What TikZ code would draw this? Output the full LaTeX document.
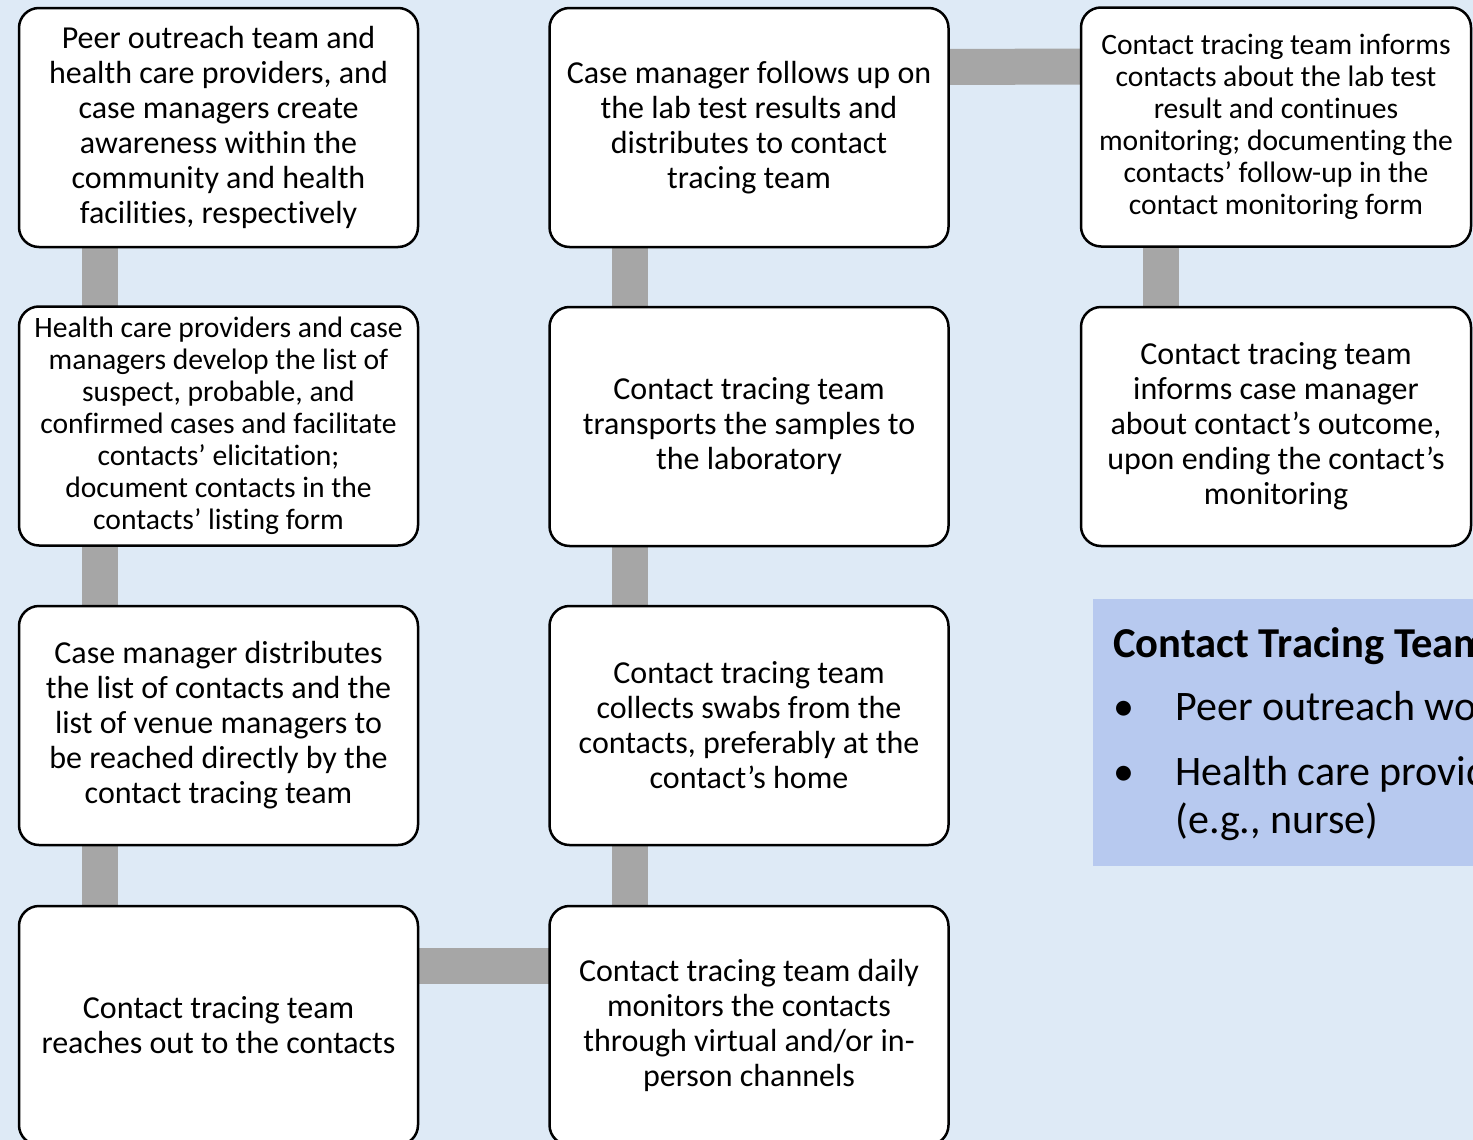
\documentclass[tikz,border=0pt]{standalone}
\usepackage{fontspec}
\setmainfont{Carlito}[Ligatures=NoCommon]
\pgfdeclarelayer{bglayer}
\pgfdeclarelayer{connlayer}
\pgfsetlayers{bglayer,connlayer,main}
\definecolor{bgblue}{RGB}{222,234,246}
\definecolor{barg}{RGB}{166,166,166}
\definecolor{legblue}{RGB}{183,201,239}
\begin{document}
\begin{tikzpicture}[x=0.5pt,y=-0.5pt,
  stepbox/.style={draw=black, line width=1.25pt, fill=white, rounded corners=10pt,
    minimum width=199.5pt, minimum height=119.5pt, inner sep=0pt, outer sep=0pt,
    align=center, font=\fontsize{16pt}{17.5pt}\selectfont},
  narrowbox/.style={stepbox, minimum width=195pt},
  smalltext/.style={font=\fontsize{14.8pt}{16pt}\selectfont},
  bar/.style={draw=barg, line width=18pt},
  legtext/.style={anchor=base west, inner sep=0pt, font=\fontsize{21pt}{24.5pt}\selectfont},
]
\useasboundingbox (0,0) rectangle (1473,1140);
\begin{pgfonlayer}{bglayer}
  \fill[bgblue] (0,0) rectangle (1473,1140);
\end{pgfonlayer}
\clip (0,0) rectangle (1473,1140);

% column 1
\node[stepbox] (a1) at (218.5,127.5) {Peer outreach team and\\health care providers, and\\case managers create\\awareness within the\\community and health\\facilities, respectively};
\node[stepbox, smalltext] (a2) at (218.5,426) {Health care providers and case\\managers develop the list of\\suspect, probable, and\\confirmed cases and facilitate\\contacts’ elicitation;\\document contacts in the\\contacts’ listing form};
\node[stepbox] (a3) at (218.5,725.5) {Case manager distributes\\the list of contacts and the\\list of venue managers to\\be reached directly by the\\contact tracing team};
\node[stepbox] (a4) at (218.5,1025.5) {Contact tracing team\\reaches out to the contacts};

% column 2
\node[stepbox] (b1) at (749,127.5) {Case manager follows up on\\the lab test results and\\distributes to contact\\tracing team};
\node[stepbox] (b2) at (749,426.5) {Contact tracing team\\transports the samples to\\the laboratory};
\node[stepbox] (b3) at (749,725.5) {Contact tracing team\\collects swabs from the\\contacts, preferably at the\\contact’s home};
\node[stepbox] (b4) at (749,1025.5) {Contact tracing team daily\\monitors the contacts\\through virtual and/or in-\\person channels};

% column 3
\node[narrowbox, smalltext] (c1) at (1276,127) {Contact tracing team informs\\contacts about the lab test\\result and continues\\monitoring; documenting the\\contacts’ follow-up in the\\contact monitoring form};
\node[narrowbox] (c2) at (1276,426.5) {Contact tracing team\\informs case manager\\about contact’s outcome,\\upon ending the contact’s\\monitoring};

% legend
\node[fill=legblue, anchor=north west, minimum width=200pt, minimum height=133.5pt, inner sep=0pt] (legend) at (1093,599) {};
\node[anchor=base west, inner sep=0pt, font=\bfseries\fontsize{21.3pt}{26pt}\selectfont] (ltitle) at (1113,657) {Contact Tracing Team};
\node[legtext] (bul1) at (1113,720) {•};
\node[legtext] (l1) at (1175,720) {Peer outreach workers};
\node[legtext] (bul2) at (1113,785) {•};
\node[legtext] (l2) at (1175,785) {Health care providers};
\node[legtext] (l3) at (1175,833) {(e.g., nurse)};

% connectors
\begin{pgfonlayer}{connlayer}
  \draw[bar] ([xshift=40.5pt]a1.south west) -- ([xshift=40.5pt]a2.north west);
  \draw[bar] ([xshift=40.5pt]a2.south west) -- ([xshift=40.5pt]a3.north west);
  \draw[bar] ([xshift=40.5pt]a3.south west) -- ([xshift=40.5pt]a4.north west);
  \draw[bar] ([xshift=40pt]b1.south west) -- ([xshift=40pt]b2.north west);
  \draw[bar] ([xshift=40pt]b2.south west) -- ([xshift=40pt]b3.north west);
  \draw[bar] ([xshift=40pt]b3.south west) -- ([xshift=40pt]b4.north west);
  \draw[bar] ([xshift=40pt]c1.south west) -- ([xshift=40pt]c2.north west);
  \draw[bar] ([yshift=-29.5pt]b1.north east) -- ([yshift=-29.5pt]c1.north west);
  \draw[bar] ([yshift=-30pt]a4.north east) -- ([yshift=-30pt]b4.north west);
\end{pgfonlayer}
\end{tikzpicture}
\end{document}
